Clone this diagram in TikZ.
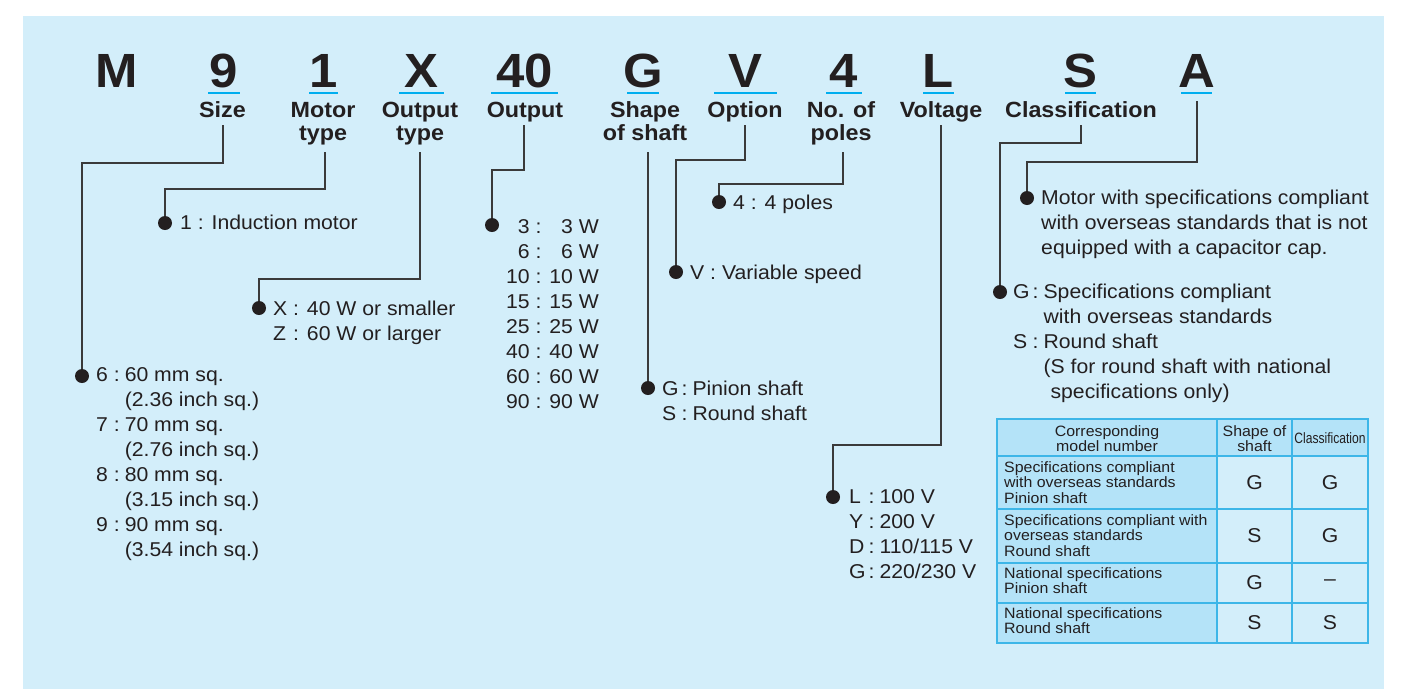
\documentclass[tikz,border=0pt]{standalone}
\usepackage{fontspec}
\setmainfont{Liberation Sans}[FakeStretch=1.06]
\usepackage{graphicx}
\definecolor{bgc}{HTML}{D3EEFA}
\definecolor{ucyan}{HTML}{00AEEF}
\definecolor{thfill}{HTML}{B4E3F8}
\definecolor{tline}{HTML}{3DB6E8}
\definecolor{connc}{HTML}{3A3A3A}
\definecolor{dotc}{HTML}{231F20}
\definecolor{txtc}{HTML}{231F20}
\newcommand\mytab[2]{\begin{tabular}[t]{@{}#1@{}}#2\end{tabular}}
\begin{document}
\begin{tikzpicture}[x=1pt,y=-1pt,
  every node/.style={text=txtc},
  bigl/.style={font=\fontsize{48}{48}\selectfont\bfseries, anchor=base, inner sep=0pt},
  lab/.style={font=\fontsize{22}{23}\selectfont\bfseries, anchor=base, inner sep=0pt},
  txt/.style={font=\fontsize{20}{25}\selectfont, anchor=base west, inner sep=0pt},
  tbt/.style={font=\fontsize{15}{15.5}\selectfont, anchor=base west, inner sep=0pt},
  cell/.style={font=\fontsize{20}{20}\selectfont, anchor=center, inner sep=0pt},
  uline/.style={draw=ucyan, line width=2.6pt},
  conn/.style={draw=connc, line width=1.2pt},
  dot/.style={circle, fill=dotc, inner sep=0pt, minimum size=14pt},
  tgrid/.style={draw=tline, line width=1.3pt}
]
\useasboundingbox (0,0) rectangle (1402,689);
\fill[white] (0,0) rectangle (1402,689);
\fill[bgc] (23,16) rectangle (1384,689);

% big letters
\node[bigl] (kM) at (117,87) {M};
\node[bigl] (k9) at (224,87) {9};
\node[bigl] (k1) at (323.5,87) {1};
\node[bigl] (kX) at (421,87) {X};
\node[bigl] (k40) at (524.5,87) {40};
\node[bigl] (kG) at (643,87) {G};
\node[bigl] (kV) at (745.5,87) {V};
\node[bigl] (k4) at (844,87) {4};
\node[bigl] (kL) at (938.5,87) {L};
\node[bigl] (kS) at (1080.5,87) {S};
\node[bigl] (kA) at (1196.5,87) {A};

% underlines
\draw[uline] (208,93) -- (240,93);
\draw[uline] (309,93) -- (338,93);
\draw[uline] (399,93) -- (444,93);
\draw[uline] (491,93) -- (558,93);
\draw[uline] (627,93) -- (659,93);
\draw[uline] (714,93) -- (777,93);
\draw[uline] (826,93) -- (862,93);
\draw[uline] (923,93) -- (954,93);
\draw[uline] (1065,93) -- (1096,93);
\draw[uline] (1181,93) -- (1212,93);

% labels
\node[lab] (lsize) at (222.5,117) {Size};
\node[lab] (lmotor) at (323,117) {\mytab{c}{Motor\\type}};
\node[lab] (lotype) at (420,117) {\mytab{c}{Output\\type}};
\node[lab] (lout) at (525,117) {Output};
\node[lab] (lshape) at (645,117) {\mytab{c}{Shape\\of shaft}};
\node[lab] (lopt) at (745,117) {Option};
\node[lab] (lpoles) at (841,117) {\mytab{c}{No. of\\poles}};
\node[lab] (lvolt) at (941,117) {Voltage};
\node[lab] (lclass) at (1081,117) {Classification};

% connector starts
\coordinate (c1) at (223,125);
\coordinate (c2) at (325,152);
\coordinate (c3) at (420,152);
\coordinate (c4) at (524,125);
\coordinate (c5) at (648,152);
\coordinate (c6) at (745,125);
\coordinate (c7) at (843,152);
\coordinate (c8) at (941,125);
\coordinate (c9) at (1081,125);
\coordinate (c10) at (1197,101);

% dots
\node[dot] (d1) at (82,376) {};
\node[dot] (d2) at (165,223) {};
\node[dot] (d3) at (259,308) {};
\node[dot] (d4) at (492,225) {};
\node[dot] (d5) at (648,388) {};
\node[dot] (d6) at (676,272) {};
\node[dot] (d7) at (719,202) {};
\node[dot] (d8) at (833,497) {};
\node[dot] (d9) at (1000,292) {};
\node[dot] (d10) at (1027,198) {};

% connectors
\draw[conn] (c1) -- ++(0,38) -| (d1);
\draw[conn] (c2) -- ++(0,37) -| (d2);
\draw[conn] (c3) -- ++(0,127) -| (d3);
\draw[conn] (c4) -- ++(0,45) -| (d4);
\draw[conn] (c5) -- (d5);
\draw[conn] (c6) -- ++(0,35) -| (d6);
\draw[conn] (c7) -- ++(0,32) -| (d7);
\draw[conn] (c8) -- ++(0,320) -| (d8);
\draw[conn] (c9) -- ++(0,18) -| (d9);
\draw[conn] (c10) -- ++(0,61) -| (d10);

% texts
\node[txt] (t1) at (96,381) {\mytab{r@{ }c@{\hspace{5pt}}l}{6&:&60 mm sq.\\&&(2.36 inch sq.)\\7&:&70 mm sq.\\&&(2.76 inch sq.)\\8&:&80 mm sq.\\&&(3.15 inch sq.)\\9&:&90 mm sq.\\&&(3.54 inch sq.)}};
\node[txt] (t2) at (180,229) {1 : Induction motor};
\node[txt] (t3) at (273,315) {\mytab{l@{ }c@{ }l}{X&:&40 W or smaller\\Z&:&60 W or larger}};
\node[txt] (t4) at (506,233) {\mytab{r@{ }c@{ }r}{3&:&3 W\\6&:&6 W\\10&:&10 W\\15&:&15 W\\25&:&25 W\\40&:&40 W\\60&:&60 W\\90&:&90 W}};
\node[txt] (t5) at (662,395) {\mytab{l@{\hspace{3pt}}c@{\hspace{5pt}}l}{G&:&Pinion shaft\\S&:&Round shaft}};
\node[txt] (t6) at (690,279) {V : Variable speed};
\node[txt] (t7) at (733,209) {4 : 4 poles};
\node[txt] (t8) at (849,503) {\mytab{l@{\hspace{3pt}}c@{\hspace{5pt}}l}{L&:&100 V\\Y&:&200 V\\D&:&110/115 V\\G&:&220/230 V}};
\node[txt] (t9) at (1013,298) {\mytab{l@{\hspace{3pt}}c@{\hspace{5pt}}l}{G&:&Specifications compliant\\&&with overseas standards\\S&:&Round shaft\\&&(S for round shaft with national\\&&\hspace{7pt}specifications only)}};
\node[txt] (t10) at (1041,204) {\mytab{l}{Motor with specifications compliant\\with overseas standards that is not\\equipped with a capacitor cap.}};

% table
\fill[thfill] (997,419) rectangle (1368,456);
\fill[thfill] (997,456) rectangle (1217,643);
\draw[tgrid] (997,419) rectangle (1368,643);
\draw[tgrid] (1217,419) -- (1217,643);
\draw[tgrid] (1292,419) -- (1292,643);
\draw[tgrid] (997,456) -- (1368,456);
\draw[tgrid] (997,509) -- (1368,509);
\draw[tgrid] (997,563) -- (1368,563);
\draw[tgrid] (997,603) -- (1368,603);

\node[tbt, anchor=base] (h1) at (1107,436) {\mytab{c}{Corresponding\\model number}};
\node[tbt, anchor=base] (h2) at (1254.5,436) {\mytab{c}{Shape of\\shaft}};
\node[tbt, anchor=base] (h3) at (1330,443) {\scalebox{0.76}[1]{Classification}};
\node[tbt] (r1) at (1004,472) {\mytab{l}{Specifications compliant\\with overseas standards\\Pinion shaft}};
\node[tbt] (r2) at (1004,525) {\mytab{l}{Specifications compliant with\\overseas standards\\Round shaft}};
\node[tbt] (r3) at (1004,578) {\mytab{l}{National specifications\\Pinion shaft}};
\node[tbt] (r4) at (1004,618) {\mytab{l}{National specifications\\Round shaft}};
\node[cell] (g11) at (1254.5,482.5) {G};
\node[cell] (g12) at (1330,482.5) {G};
\node[cell] (g21) at (1254.5,536) {S};
\node[cell] (g22) at (1330,536) {G};
\node[cell] (g31) at (1254.5,583) {G};
\node[cell] (g32) at (1330,583) {–};
\node[cell] (g41) at (1254.5,623) {S};
\node[cell] (g42) at (1330,623) {S};
\end{tikzpicture}
\end{document}
